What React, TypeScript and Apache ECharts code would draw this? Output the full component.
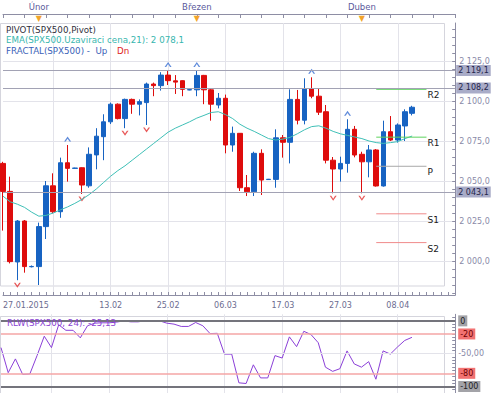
import React, { useEffect, useRef } from 'react';
import * as echarts from 'echarts';

// ---- data ----
// bar slots (58 bars + empty slots to the right edge)
const slotCount = 64;
const slots = Array.from({ length: slotCount }, (_, i) => String(i));

// [open, high, low, close]
const candles: [number, number, number, number][] = [
  [2061, 2062, 2019, 2043.5],
  [2043.5, 2052.7, 1998.5, 1999.6],
  [1999.4, 2025.6, 1988, 2025],
  [2025, 2025.6, 1992.7, 1996.5],
  [1996.4, 1997.2, 1996, 1996.6],
  [1996.5, 2024, 1985, 2021.5],
  [2021.5, 2050, 2013.75, 2047],
  [2047, 2054.8, 2029.8, 2030.8],
  [2030.8, 2064.6, 2027, 2061.4],
  [2061.4, 2072.5, 2049.6, 2057.9],
  [2057.9, 2058.3, 2057.7, 2058.1],
  [2058.3, 2058.5, 2041.9, 2047.5],
  [2047, 2071, 2045.8, 2066.7],
  [2066.3, 2083, 2057.3, 2078],
  [2077.7, 2091.7, 2063, 2087],
  [2087, 2099, 2085.6, 2098],
  [2098, 2098.5, 2088.5, 2089],
  [2089, 2101.5, 2083, 2101],
  [2101, 2101.5, 2092, 2098],
  [2098, 2101, 2091, 2099.6],
  [2099, 2111.5, 2085, 2110.6],
  [2110.6, 2111.5, 2103, 2109.6],
  [2109.6, 2118, 2106.5, 2116.2],
  [2116.2, 2119.1, 2110, 2112.7],
  [2112.6, 2116.2, 2104.4, 2111.8],
  [2112.7, 2112.9, 2103, 2107.3],
  [2106.9, 2107.3, 2106.7, 2107.1],
  [2107, 2119.1, 2103, 2116],
  [2116, 2116.3, 2098, 2107],
  [2107, 2107.5, 2087.7, 2098],
  [2097.5, 2105, 2095.4, 2101.7],
  [2101.7, 2104, 2067.3, 2072.5],
  [2072.5, 2084, 2068.3, 2079.8],
  [2079.8, 2080, 2043.75, 2045.8],
  [2045.8, 2053.75, 2040.6, 2043.3],
  [2043.3, 2068.3, 2040.6, 2067.3],
  [2067.3, 2069.8, 2041.25, 2050.6],
  [2050.9, 2051.3, 2050.8, 2051.1],
  [2051, 2082.3, 2045.8, 2077],
  [2077, 2078.75, 2064.6, 2074.2],
  [2074.2, 2107.3, 2061, 2101],
  [2101, 2106.9, 2085.4, 2088],
  [2088, 2114.2, 2085.4, 2107.5],
  [2107.5, 2114.8, 2101.7, 2103],
  [2103, 2108, 2091.25, 2093],
  [2093.3, 2097.5, 2061, 2063],
  [2063, 2065, 2042.3, 2057.5],
  [2057.5, 2065.2, 2049.6, 2061],
  [2061, 2088.6, 2055.2, 2082.3],
  [2082.3, 2084.4, 2064.8, 2066.25],
  [2066.7, 2068.3, 2042.3, 2062],
  [2062, 2072.5, 2052.3, 2069.4],
  [2069.4, 2070, 2046.5, 2046.9],
  [2046.9, 2087.7, 2046.5, 2080.8],
  [2080.8, 2090.6, 2075, 2075.6],
  [2075.6, 2086, 2074, 2085],
  [2084.4, 2094.8, 2075, 2093.3],
  [2092.3, 2097, 2091, 2096.1],
];

const ema21 = [
  2040.5, 2037, 2035.5, 2033.5, 2030.5, 2028, 2028.5, 2030, 2032, 2033.8,
  2036, 2038.5, 2041.5, 2045, 2049, 2053, 2056.5, 2059.5, 2063, 2066.5,
  2070, 2073.5, 2077, 2080.5, 2083, 2085, 2087, 2089.3, 2091, 2092.8,
  2093.3, 2091.5, 2089, 2085.5, 2083, 2081, 2078.75, 2076.5, 2075.6, 2076.2,
  2077.3, 2079.5, 2082, 2084, 2084.5, 2083, 2081, 2079.5, 2078.5, 2077.5,
  2076.5, 2075, 2074, 2073.5, 2074, 2074.6, 2076.5, 2078.1,
];

const rlw24 = [
  -40.8, -79, -58, -81.6, -81, -53, -23.4, -40.8, -6, -14.4,
  -14.4, -25.9, -7.5, -3.5, -3, -3, -2, 0, -1.5, -1.5,
  0, 0, 0, -3.5, -5, -8.5, -8.5, -2.5, -7.5, -19.4,
  -19, -50.7, -50.7, -94.5, -95.5, -67, -87, -87, -53, -56.7,
  -24.4, -39.3, -15.9, -20.9, -33.3, -70.6, -77, -73, -45.8, -65.7,
  -70.6, -62.2, -89, -45.8, -50.7, -39.8, -29.9, -25.13,
];

const fractalUp = [9, 23, 27, 43, 48];
const fractalDn = [2, 11, 17, 20, 46, 50];

const pivotNames = ['R2', 'R1', 'P', 'S1', 'S2'];
const pivotValues = [2107.3, 2077.4, 2059.2, 2029.5, 2011.5];
const pivotColors = ['#5fd35f', '#5fd35f', '#a8a8a8', '#f08a8a', '#f08a8a'];
const pivotSpan = [52, 59];

const priceLines = [2119.1, 2108.2, 2043.1];
const lastPrice = 2096.1;

const bottomTickLabels: [number, string][] = [
  [0, '27.01.2015'], [15, '13.02'], [23, '25.02'], [31, '06.03'],
  [39, '17.03'], [47, '27.03'], [55, '08.04'],
];
const gridLineSlots = [7, 15, 23, 31, 39, 47, 55];
const monthTickLabels: [number, string][] = [[5, 'Únor'], [27, 'Březen'], [50, 'Duben']];
const priceTickLabels = [2000, 2025, 2050, 2075, 2100, 2125];
const rlwTickLabels = [0, -20, -50, -80, -100];

// ---- helpers ----
const fmt = (v: number, d = 1) => {
  const s = Math.abs(v).toFixed(d);
  const [ip, dp] = s.split('.');
  const ip2 = ip.replace(/\B(?=(\d{3})+(?!\d))/g, ' ');
  return (v < 0 ? '-' : '') + ip2 + (dp ? ',' + dp : '');
};

const FONT = 'DejaVu Sans';
const UP = '#1763c2';
const DN = '#de0c0c';
const AXIS = '#8e8ea4';
const GRID = '#e3e3ea';

export default function App() {
  const ref = useRef<HTMLDivElement>(null);

  useEffect(() => {
    if (!ref.current) return;
    const chart = echarts.init(ref.current, undefined, { renderer: 'svg' });

    const bottomMap = new Map(bottomTickLabels);
    const monthMap = new Map(monthTickLabels);
    const gridSet = new Set(gridLineSlots);
    const minorPrice: number[] = [];
    for (let v = 1980; v <= 2145; v += 5) minorPrice.push(v);
    const minorRlw: number[] = [];
    for (let v = -105; v <= 5; v += 5) minorRlw.push(v);

    const catData = slots.map((s, i) =>
      i === 0 ? { value: s, textStyle: { align: 'left' } } : s
    );

    const priceMarkData: any[] = priceLines.map((v) => ({
      yAxis: v,
      lineStyle: { color: '#a2a2b4', width: 1, type: 'solid' },
      label: {
        show: true, position: 'end', distance: 1, formatter: fmt(v),
        backgroundColor: '#a9acc8', color: '#25254a', fontSize: 8, fontFamily: FONT,
        padding: [2, 2, 1, 2],
      },
    }));
    priceMarkData.push({
      yAxis: lastPrice,
      lineStyle: { opacity: 0 },
      label: {
        show: true, position: 'end', distance: 1, formatter: fmt(lastPrice),
        backgroundColor: '#86d6fa', color: '#174a7c', fontSize: 8, fontFamily: FONT,
        padding: [2, 2, 1, 2],
      },
    });

    const upSym = 'path://M0,6 L3.5,0 L7,6 L5.4,6 L3.5,2.6 L1.6,6 Z';
    const dnSym = 'path://M0,0 L3.5,6 L7,0 L5.4,0 L3.5,3.4 L1.6,0 Z';

    const option: any = {
      animation: false,
      backgroundColor: '#ffffff',
      textStyle: { fontFamily: FONT },
      grid: [
        { left: 1, right: 44.8, top: 23, bottom: 98 },
        { left: 1, right: 44.8, top: 314.3, height: 80.4 },
      ],
      xAxis: [
        {
          type: 'category', gridIndex: 0, position: 'bottom', data: catData, boundaryGap: false,
          axisLine: { lineStyle: { color: AXIS } },
          axisTick: { inside: true, length: 3, interval: 0, lineStyle: { color: AXIS } },
          axisLabel: {
            interval: (i: number) => bottomMap.has(i),
            formatter: (_v: string, i: number) => bottomMap.get(i) ?? '',
            color: '#6c6c90', fontSize: 8, margin: 6, fontFamily: FONT,
          },
          splitLine: { show: true, interval: (i: number) => gridSet.has(i), lineStyle: { color: GRID } },
        },
        {
          type: 'category', gridIndex: 0, position: 'top', offset: 9, data: slots, boundaryGap: false,
          axisLine: { lineStyle: { color: AXIS } },
          axisTick: { inside: true, length: 4, interval: 2, lineStyle: { color: AXIS } },
          axisLabel: {
            interval: (i: number) => monthMap.has(i),
            formatter: (_v: string, i: number) => monthMap.get(i) ?? '',
            color: '#5a5a9c', fontSize: 8.5, margin: 3, fontFamily: FONT,
          },
          splitLine: { show: false },
        },
        {
          type: 'category', gridIndex: 0, position: 'top', offset: 9, data: slots, boundaryGap: false,
          axisLine: { show: false }, axisTick: { show: false },
          axisLabel: {
            inside: true, margin: 0,
            interval: (i: number) => monthMap.has(i),
            formatter: () => '▼',
            color: '#f2a42a', fontSize: 8, fontFamily: FONT,
          },
          splitLine: { show: false },
        },
        {
          type: 'category', gridIndex: 1, data: slots, boundaryGap: false,
          axisLine: { show: false }, axisTick: { show: false }, axisLabel: { show: false },
          splitLine: { show: true, interval: (i: number) => gridSet.has(i), lineStyle: { color: GRID } },
        },
      ],
      yAxis: [
        {
          type: 'value', gridIndex: 0, position: 'right', min: 1978.75, max: 2148.75,
          axisLine: { show: true, lineStyle: { color: AXIS } },
          axisTick: { show: true, inside: true, length: 3, customValues: minorPrice, lineStyle: { color: AXIS } },
          axisLabel: {
            customValues: priceTickLabels, formatter: (v: number) => fmt(v),
            color: '#8a8aa8', fontSize: 8, margin: 4, fontFamily: FONT,
          },
          splitLine: { show: false },
        },
        {
          type: 'value', gridIndex: 0, position: 'right', min: 1978.75, max: 2148.75,
          axisLine: { show: false },
          axisTick: { show: false, customValues: priceTickLabels },
          axisLabel: { show: false },
          splitLine: { show: true, lineStyle: { color: GRID } },
        },
        {
          type: 'value', gridIndex: 1, position: 'right', min: -110, max: 10,
          axisLine: { show: true, lineStyle: { color: AXIS } },
          axisTick: { show: true, inside: true, length: 3, customValues: minorRlw, lineStyle: { color: AXIS } },
          axisLabel: {
            customValues: rlwTickLabels, margin: 3, fontSize: 8, fontFamily: FONT,
            formatter: (v: number) => {
              if (v === 0 || v === -100) return '{g|' + v + '}';
              if (v === -20 || v === -80) return '{r|' + v + '}';
              return '{p|' + fmt(v, 2) + '}';
            },
            rich: {
              g: { backgroundColor: '#a3a3a8', color: '#1e1e1e', padding: [2, 2, 1, 2], fontSize: 8, fontFamily: FONT },
              r: { backgroundColor: '#f27272', color: '#6e0000', padding: [2, 2, 1, 2], fontSize: 8, fontFamily: FONT },
              p: { color: '#8a8aa8', fontSize: 8, fontFamily: FONT },
            },
          },
          splitLine: { show: false },
        },
      ],
      graphic: [
        {
          type: 'rect', silent: true, z: -1,
          shape: { x: 0.5, y: 23.5, width: 444, height: 262.5 },
          style: { fill: 'none', stroke: '#d5d5dd', lineWidth: 1 },
        },
        {
          type: 'rect', silent: true, z: -1,
          shape: { x: 0.5, y: 316.5, width: 444, height: 80 },
          style: { fill: 'none', stroke: '#d5d5dd', lineWidth: 1 },
        },
        {
          type: 'text', x: 6, y: 29.5, z: 50,
          style: { text: 'PIVOT(SPX500,Pivot)', fill: '#30303c', font: '8.7px "DejaVu Sans"', verticalAlign: 'middle' },
        },
        {
          type: 'text', x: 6, y: 40, z: 50,
          style: { text: 'EMA(SPX500.Uzaviraci cena,21): ' + fmt(ema21[ema21.length - 1]), fill: '#37b6ae', font: '8.7px "DejaVu Sans"', verticalAlign: 'middle' },
        },
        {
          type: 'text', x: 6, y: 50.5, z: 50,
          style: { text: 'FRACTAL(SPX500) -  Up', fill: '#3a62b8', font: '8.7px "DejaVu Sans"', verticalAlign: 'middle' },
        },
        {
          type: 'text', x: 117, y: 50.5, z: 50,
          style: { text: 'Dn', fill: '#e02424', font: '8.7px "DejaVu Sans"', verticalAlign: 'middle' },
        },
        {
          type: 'text', x: 7, y: 322.5, z: 50,
          style: { text: 'RLW(SPX500, 24): ' + fmt(rlw24[rlw24.length - 1], 2), fill: '#8a44d2', font: '8.7px "DejaVu Sans"', verticalAlign: 'middle' },
        },
      ],
      series: [
        {
          type: 'candlestick', name: 'SPX500', xAxisIndex: 0, yAxisIndex: 0,
          data: candles.map(([o, h, l, c]) => [o, c, l, h]),
          barWidth: 5,
          itemStyle: { color: UP, color0: DN, borderColor: UP, borderColor0: DN, borderWidth: 1 },
          markLine: { silent: true, symbol: 'none', animation: false, data: priceMarkData },
        },
        {
          type: 'line', name: 'EMA', xAxisIndex: 0, yAxisIndex: 0, data: ema21,
          symbol: 'none', lineStyle: { color: '#3fc0b7', width: 1 },
        },
        {
          type: 'scatter', name: 'FractalUp', xAxisIndex: 0, yAxisIndex: 0,
          data: fractalUp.map((i) => [i, candles[i][1]]),
          symbol: upSym, symbolSize: [7, 5], symbolOffset: [0, -6],
          itemStyle: { color: '#3a6fd2' },
        },
        {
          type: 'scatter', name: 'FractalDn', xAxisIndex: 0, yAxisIndex: 0,
          data: fractalDn.map((i) => [i, candles[i][2]]),
          symbol: dnSym, symbolSize: [7, 5], symbolOffset: [0, 5],
          itemStyle: { color: '#e23030' },
        },
        ...pivotNames.map((n, k) => ({
          type: 'line', name: n, xAxisIndex: 0, yAxisIndex: 0,
          data: [[pivotSpan[0], pivotValues[k]], [pivotSpan[1], pivotValues[k]]],
          symbol: 'none', lineStyle: { color: pivotColors[k], width: 1 },
          endLabel: {
            show: true, formatter: n, color: '#1a1a1a', fontSize: 9, fontFamily: FONT,
            distance: 1, offset: [0, 6],
          },
        })),
        {
          type: 'line', name: 'RLW', xAxisIndex: 3, yAxisIndex: 2, data: rlw24,
          symbol: 'none', lineStyle: { color: '#8b40d8', width: 1 },
          markLine: {
            silent: true, symbol: 'none', animation: false, label: { show: false },
            data: [
              { yAxis: 0, lineStyle: { color: '#74747c', width: 2, type: 'solid' } },
              { yAxis: -100, lineStyle: { color: '#74747c', width: 2, type: 'solid' } },
              { yAxis: -20, lineStyle: { color: '#f4a6a6', width: 1.5, type: 'solid' } },
              { yAxis: -80, lineStyle: { color: '#f4a6a6', width: 1.5, type: 'solid' } },
              { yAxis: -50, lineStyle: { color: GRID, width: 1, type: 'solid' } },
            ],
          },
        },
      ],
    };

    chart.setOption(option);
    return () => chart.dispose();
  }, []);

  return (
    <div
      ref={ref}
      style={{ position: 'fixed', left: 0, top: 0, width: 500, height: 393, background: '#fff' }}
    />
  );
}
